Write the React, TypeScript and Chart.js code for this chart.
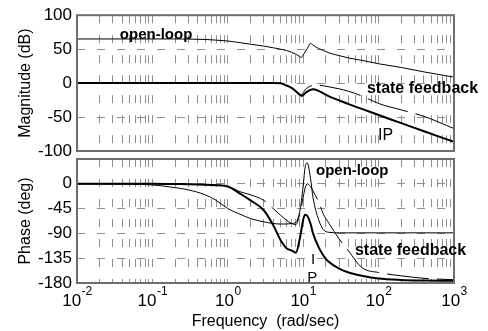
import { useEffect, useRef } from "react";
import { Chart, registerables } from "chart.js";

Chart.register(...registerables);

// ---------------- data ----------------
const FREQ = [
  0.01, 0.03, 0.1, 0.2, 0.3, 0.5, 0.7, 1, 1.5, 2, 3, 4, 5, 6, 7, 8, 9, 9.5, 10,
  10.6, 11.3, 12.5, 13.5, 16, 18.5, 22, 30, 40, 60, 100, 200, 400, 1000,
];

// magnitude (dB)
const MAG_OPEN = [
  65, 65, 65, 65, 64.8, 64.3, 63.3, 62, 59.3, 57.3, 54.5, 52, 50, 48, 45.5, 42.5,
  39, 37.7, 41.5, 46, 50.8, 58.5, 56, 51, 48, 44.5, 40.5, 37, 33.5, 28.5, 23, 16.5, 8.7,
];
const MAG_IP = [
  0, 0, 0, 0, 0, 0, 0, 0, 0, 0, 0, 0, -0.3, -3.5, -7, -12, -17, -19, -17.5, -15,
  -12.5, -10, -9.2, -11.5, -15, -19.5, -25.5, -31, -38, -47, -59, -71, -86.5,
];
const MAG_SF = [
  0, 0, 0, 0, 0, 0, 0, 0, 0, 0, 0, 0, -0.3, -3.5, -7, -12, -17, -17, -14, -10,
  -7, -4.5, -3.5, -3, -4, -5.5, -8.5, -12, -19, -30, -39.5, -49, -67,
];

// phase (deg)
const PH_OPEN = [
  0, -0.5, -2, -7, -11, -20, -30, -45, -56, -63, -69, -72, -73, -73, -72, -70,
  -50, -30, -3, 30, 38, 10, -25, -65, -83, -88, -89, -89, -89, -89, -89, -89, -89,
];
const PH_IP = [
  0, 0, 0, -0.5, -0.8, -1.5, -2.5, -5, -19, -30, -48, -75, -102, -117, -121, -125,
  -100, -82, -65, -56, -58, -72, -90, -115, -130, -142, -154, -161, -167, -172,
  -174.5, -175.5, -176,
];
const PH_SF = [
  0, 0, 0, -0.5, -0.8, -1.5, -2.5, -5, -15, -20, -30, -45, -57, -66, -72, -74,
  -55, -40, -24, -8, 0, -5, -13, -33, -55, -72, -100, -122, -152, -161, -167,
  -171.5, -174,
];

// axes
const X_GRID = [
  0.01, 0.02, 0.03, 0.04, 0.05, 0.06, 0.07, 0.08, 0.09,
  0.1, 0.2, 0.3, 0.4, 0.5, 0.6, 0.7, 0.8, 0.9,
  1, 2, 3, 4, 5, 6, 7, 8, 9,
  10, 20, 30, 40, 50, 60, 70, 80, 90,
  100, 200, 300, 400, 500, 600, 700, 800, 900, 1000,
];
const X_EXPONENTS = [-2, -1, 0, 1, 2, 3];
const MAG_RANGE = [-100, 100];
const MAG_STEP = 50;
const PH_RANGE = [-180, 45];
const PH_STEP = 45;

// ---------------- styling ----------------
const FONT = '"Liberation Sans", Arial, Helvetica, sans-serif';
const GRID_COLOR = "#8f8f8f";
const FRAME_COLOR = "#6e6e6e";
const GRID_DASH = [8, 12];
const SF_DASH = [42, 8];

type Note = { text: string; f: number; v: number; bold?: boolean; size: number; align?: CanvasTextAlign };

const MAG_NOTES: Note[] = [
  { text: "open-loop", f: 0.037, v: 71.6, bold: true, size: 15 },
  { text: "state feedback", f: 70, v: -8.4, bold: true, size: 16 },
  { text: "IP", f: 98, v: -78, size: 16 },
];
const PH_NOTES: Note[] = [
  { text: "open-loop", f: 14.8, v: 23.6, bold: true, size: 15 },
  { text: "state feedback", f: 48.6, v: -122, bold: true, size: 16 },
  { text: "I", f: 13.5, v: -138, size: 15, align: "center" },
  { text: "P", f: 13.2, v: -171, size: 15, align: "center" },
];

const pts = (ys: number[]) => FREQ.map((f, i) => ({ x: f, y: ys[i] }));

const framePlugin = {
  id: "frame",
  afterDatasetsDraw(chart: any) {
    const { ctx, chartArea: a } = chart;
    ctx.save();
    ctx.strokeStyle = FRAME_COLOR;
    ctx.lineWidth = 2;
    ctx.strokeRect(a.left, a.top, a.right - a.left, a.bottom - a.top);
    ctx.restore();
  },
};

const notesPlugin = (notes: Note[]) => ({
  id: "notes",
  afterDraw(chart: any) {
    const { ctx } = chart;
    const xs = chart.scales.x;
    const ys = chart.scales.y;
    ctx.save();
    ctx.fillStyle = "#000";
    ctx.textBaseline = "middle";
    for (const n of notes) {
      ctx.font = `${n.bold ? "bold " : ""}${n.size}px ${FONT}`;
      ctx.textAlign = n.align || "left";
      ctx.fillText(n.text, xs.getPixelForValue(n.f), ys.getPixelForValue(n.v));
    }
    ctx.restore();
  },
});

const decadePlugin = {
  id: "decades",
  afterDraw(chart: any) {
    const { ctx } = chart;
    const xs = chart.scales.x;
    const base = chart.chartArea.bottom;
    ctx.save();
    ctx.fillStyle = "#000";
    ctx.textBaseline = "middle";
    ctx.textAlign = "left";
    for (const e of X_EXPONENTS) {
      const px = xs.getPixelForValue(Math.pow(10, e));
      ctx.font = `17px ${FONT}`;
      const w1 = ctx.measureText("10").width;
      ctx.font = `12px ${FONT}`;
      const ex = String(e);
      const w2 = ctx.measureText(ex).width;
      const start = px - (w1 + w2) / 2;
      ctx.font = `17px ${FONT}`;
      ctx.fillText("10", start, base + 18);
      ctx.font = `12px ${FONT}`;
      ctx.fillText(ex, start + w1 + 0.5, base + 9);
    }
    ctx.restore();
  },
};

function makeConfig(opts: {
  datasets: any[];
  range: number[];
  step: number;
  yTitle: string;
  top: number;
  bottom: number;
  xHeight: number;
  xTitle?: string;
  hideTop?: boolean;
  notes: Note[];
  extra?: any[];
}): any {
  return {
    type: "line",
    data: { datasets: opts.datasets },
    options: {
      animation: false,
      responsive: false,
      devicePixelRatio: 1,
      layout: { padding: { left: 0, right: 34, top: opts.top, bottom: opts.bottom } },
      plugins: { legend: { display: false }, tooltip: { enabled: false } },
      elements: { point: { radius: 0 } },
      scales: {
        x: {
          type: "logarithmic",
          min: 0.01,
          max: 1000,
          afterBuildTicks: (s: any) => {
            s.ticks = X_GRID.map((v) => ({ value: v }));
          },
          afterFit: (s: any) => {
            s.height = opts.xHeight;
          },
          ticks: { display: false, autoSkip: false },
          grid: { color: GRID_COLOR, lineWidth: 1, drawTicks: false },
          border: { display: false, dash: GRID_DASH },
          title: opts.xTitle
            ? {
                display: true,
                text: opts.xTitle,
                color: "#000",
                font: { size: 16, family: FONT },
                padding: { top: 0, bottom: 0 },
              }
            : { display: false },
        },
        y: {
          type: "linear",
          min: opts.range[0],
          max: opts.range[1],
          afterFit: (s: any) => {
            s.width = 77;
          },
          ticks: {
            stepSize: opts.step,
            color: "#000",
            padding: 5,
            font: { size: 17, family: FONT },
            callback: (v: any) => (opts.hideTop && v === opts.range[1] ? "" : String(v)),
          },
          grid: { color: GRID_COLOR, lineWidth: 1, drawTicks: false },
          border: { display: false, dash: GRID_DASH },
          title: {
            display: true,
            text: opts.yTitle,
            color: "#000",
            font: { size: 16, family: FONT },
            padding: { top: 16, bottom: 0 },
          },
        },
      },
    },
    plugins: [framePlugin, notesPlugin(opts.notes), ...(opts.extra || [])],
  };
}

const line = (data: number[], width: number, dash?: number[]) => ({
  data: pts(data),
  borderColor: "#000",
  backgroundColor: "#000",
  borderWidth: width,
  borderDash: dash || [],
  pointRadius: 0,
  fill: false,
  cubicInterpolationMode: "monotone",
});

export default function App() {
  const magRef = useRef<HTMLCanvasElement>(null);
  const phRef = useRef<HTMLCanvasElement>(null);

  useEffect(() => {
    const c1 = new Chart(
      magRef.current!,
      makeConfig({
        datasets: [line(MAG_SF, 1, SF_DASH), line(MAG_OPEN, 1), line(MAG_IP, 2)],
        range: MAG_RANGE,
        step: MAG_STEP,
        yTitle: "Magnitude (dB)",
        top: 13.5,
        bottom: 180,
        xHeight: 0,
        notes: MAG_NOTES,
      })
    );
    const c2 = new Chart(
      phRef.current!,
      makeConfig({
        datasets: [line(PH_SF, 1, SF_DASH), line(PH_OPEN, 1), line(PH_IP, 2)],
        range: PH_RANGE,
        step: PH_STEP,
        yTitle: "Phase (deg)",
        top: 159,
        bottom: 0,
        xHeight: 48,
        xTitle: "Frequency  (rad/sec)",
        hideTop: true,
        notes: PH_NOTES,
        extra: [decadePlugin],
      })
    );
    return () => {
      c1.destroy();
      c2.destroy();
    };
  }, []);

  return (
    <div style={{ position: "absolute", left: 0, top: 0, width: 488, height: 331, background: "#fff" }}>
      <canvas ref={magRef} width={488} height={331} style={{ position: "absolute", left: 0, top: 0 }} />
      <canvas ref={phRef} width={488} height={331} style={{ position: "absolute", left: 0, top: 0 }} />
    </div>
  );
}
